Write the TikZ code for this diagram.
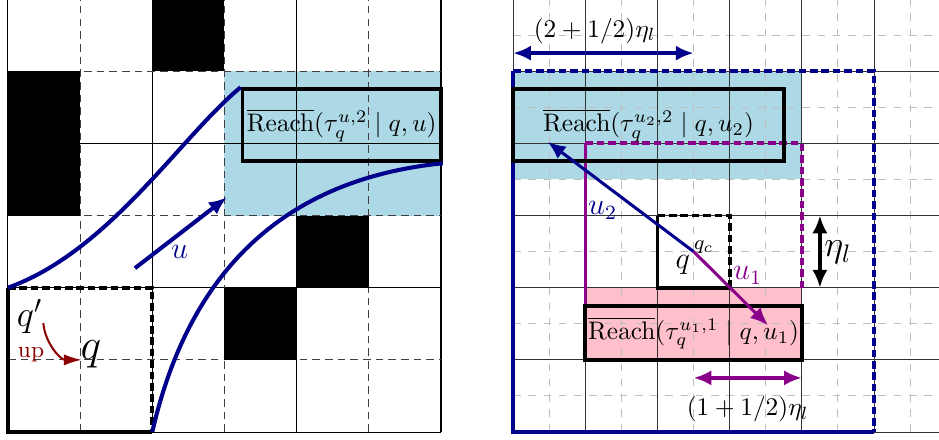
\documentclass[tikz,border=0pt]{standalone}
\usepackage{tikz}
\usetikzlibrary{arrows.meta}
\definecolor{rpath}{HTML}{00008B}
\definecolor{rviolet}{HTML}{8B008B}
\definecolor{rup}{HTML}{8B0000}
\definecolor{rsky}{HTML}{ADD8E6}
\definecolor{rpink}{HTML}{FFC0CB}

\begin{document}
\begin{tikzpicture}[>={Latex[length=7pt, width=6pt]}, line width=0.4pt,
    boxline/.style={line width=1.5pt},
    thickdash/.style={line width=1.5pt, dash pattern=on 3pt off 1.5pt},
    reachbox/.style={draw=black, line width=1.5pt, minimum height=1cm, inner sep=0pt},
    gridhalf/.style={black!75, dash pattern=on 3pt off 2pt},
    gridfine/.style={black!25, dashed}]
  \useasboundingbox (-0.11,-0.097) rectangle (12.9,5.986);

  % ---- left: coarse grid with obstacles ----
  \fill[rsky] (3,3) rectangle (6,5);
  \foreach \i in {0,2,4,6} {
    \draw (\i,0) -- (\i,6);
    \draw (0,\i) -- (6,\i);
  }
  \foreach \i in {1,3,5} {
    \draw[gridhalf] (\i,0) -- (\i,6);
    \draw[gridhalf] (0,\i) -- (6,\i);
  }
  \fill (2,5) rectangle (3,6);
  \fill (0,3) rectangle (1,5);
  \fill (4,2) rectangle (5,3);
  \fill (3,1) rectangle (4,2);

  % coarse cell q' (solid lower-left, dashed upper-right)
  \coordinate (qpNW) at (0,2);
  \coordinate (qpSE) at (2,0);
  \draw[boxline] (qpNW) -- (0,0) -- (qpSE);
  \draw[thickdash] (qpNW) -- (2,2) -- (qpSE);
  \node[font=\Large] (qp) at (0.3,1.6) {$q'$};
  \node[font=\LARGE] (qf) at (1.15,1.07) {$q$};
  \node[rup, font=\small] (upLab) at (0.32,1.07) {up};
  \coordinate (upS) at (0.49,1.51);
  \coordinate (upE) at (1.02,1.0);
  \draw[rup, thick, -{Latex[length=7pt, width=4.5pt]}] (upS) to[out=-85, in=180] (upE);

  % reachable set under u and its envelope
  \node[reachbox, minimum width=2.75cm] (reachU) at (4.625,4.25)
    {$\overline{\mathrm{Reach}}(\tau_q^{u,2} \mid q,u)$};
  \draw[rpath, line width=1.6pt] (qpNW) .. controls (1.4,2.5) and (2.4,4.1) .. (reachU.north west);
  \draw[rpath, line width=1.6pt] (qpSE) .. controls (2.5,2.2) and (3.8,3.5) .. (reachU.south east);
  \coordinate (uS) at (1.76,2.27);
  \coordinate (uE) at (3.03,3.25);
  \draw[rpath, line width=1.6pt, ->] (uS) -- (uE);
  \node[rpath, font=\large] (uLab) at (2.38,2.49) {$u$};

  % ---- right: fine grid ----
  \fill[rsky] (7,3.5) rectangle (11,5);
  \fill[rpink] (8,1) rectangle (11,2);
  \foreach \i in {7.5,8.5,...,12.5}
    \draw[gridfine] (\i,0) -- (\i,6);
  \foreach \j in {0.5,1.5,...,5.5}
    \draw[gridfine] (7,\j) -- (12.9,\j);
  \foreach \i in {7,...,12}
    \draw[black!80] (\i,0) -- (\i,6);
  \foreach \j in {0,...,6}
    \draw[black!80] (7,\j) -- (12.9,\j);

  % envelopes for u_2 (navy) and u_1 (violet)
  \draw[rpath, boxline] (7,5) -- (7,0) -- (12,0);
  \draw[rpath, thickdash] (7,5) -- (12,5) -- (12,0);
  \draw[rviolet, very thick] (8,4) -- (8,1.75);
  \draw[rviolet, thickdash] (8,4) -- (11,4) -- (11,2);

  \node[reachbox, minimum width=3.75cm] (reachB) at (8.875,4.25)
    {$\overline{\mathrm{Reach}}(\tau_q^{u_2,2} \mid q,u_2)$};
  \node[reachbox, minimum width=3cm, minimum height=0.75cm] (reachA) at (9.5,1.375)
    {$\overline{\mathrm{Reach}}(\tau_q^{u_1,1} \mid q,u_1)$};

  % fine cell q and its centre
  \draw[boxline] (9,3) -- (9,2) -- (10,2);
  \draw[thickdash] (9,3) -- (10,3) -- (10,2);
  \coordinate (qc) at (9.5,2.5);
  \node[font=\large] (qR) at (9.35,2.31) {$q$};
  \node[font=\footnotesize] (qcLab) at (9.64,2.56) {$q_c$};

  \coordinate (u2E) at (7.48,4.02);
  \coordinate (u1E) at (10.53,1.48);
  \draw[rpath, very thick, ->] (qc) -- (u2E);
  \draw[rviolet, very thick, ->] (qc) -- (u1E);
  \node[rpath, font=\large] (u2Lab) at (8.24,3.07) {$u_2$};
  \node[rviolet, font=\large] (u1Lab) at (10.25,2.17) {$u_1$};

  % widths in units of eta_l
  \coordinate (etaT) at (11.25,3);
  \coordinate (etaB) at (11.25,2);
  \draw[line width=1.6pt, <->] (etaT) -- (etaB);
  \node[font=\Large] (etaLab) at (11.5,2.49) {$\eta_l$};

  \coordinate (wA) at (7,5.25);
  \coordinate (wB) at (9.5,5.25);
  \draw[rpath, line width=1.6pt, <->] (wA) -- (wB);
  \node (wLab) at (8.13,5.56) {$(2+1/2)\eta_l$};

  \coordinate (vA) at (9.5,0.75);
  \coordinate (vB) at (11,0.75);
  \draw[rviolet, line width=1.6pt, <->] (vA) -- (vB);
  \node (vLab) at (10.25,0.32) {$(1+1/2)\eta_l$};
\end{tikzpicture}
\end{document}
